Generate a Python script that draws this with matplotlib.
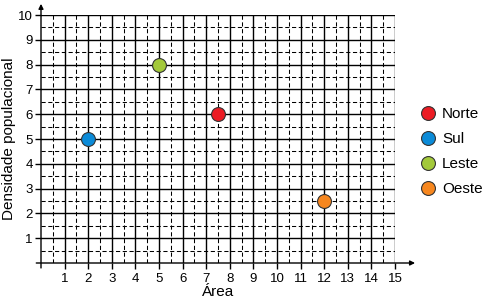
import matplotlib.pyplot as plt
import numpy as np

plt.rcParams['font.family'] = ['Liberation Sans', 'DejaVu Sans']

# data
regioes = ["Norte", "Sul", "Leste", "Oeste"]
area = [7.5, 2, 5, 12]
densidade = [6, 5, 8, 2.5]
cores = ["#ec1c24", "#0b8bd8", "#a3c93a", "#f7871f"]

x_ticks = list(range(1, 16))
y_ticks = list(range(1, 11))

fig = plt.figure(figsize=(4.85, 3.0), dpi=100)
ax = fig.add_axes([41 / 485, 37 / 300, 354 / 485, 248 / 300])
ax.set_xlim(0, 15)
ax.set_ylim(0, 10)

# grid: solid at integers, dashed at halves
for v in np.arange(0.5, 15, 1):
    ax.axvline(v, color="black", lw=0.75, dashes=(4, 2.5), zorder=1)
for v in np.arange(0.5, 10, 1):
    ax.axhline(v, color="black", lw=0.75, dashes=(4, 2.5), zorder=1)
for v in x_ticks:
    ax.axvline(v, color="black", lw=1.0, zorder=1)
for v in y_ticks:
    ax.axhline(v, color="black", lw=1.0, zorder=1)

for s in ax.spines.values():
    s.set_visible(False)

# axes with arrows
ax.annotate("", xy=(15.85, 0), xytext=(-0.2, 0), annotation_clip=False,
            arrowprops=dict(arrowstyle="-|>", color="black", lw=1.0,
                            mutation_scale=7, shrinkA=0, shrinkB=0))
ax.annotate("", xy=(0, 10.45), xytext=(0, -0.2), annotation_clip=False,
            arrowprops=dict(arrowstyle="-|>", color="black", lw=1.0,
                            mutation_scale=7, shrinkA=0, shrinkB=0))

ax.set_xticks(x_ticks)
ax.set_yticks(y_ticks)
ax.tick_params(axis="both", length=4, width=1.0, color="black", labelsize=9.5, pad=2)
ax.tick_params(axis="x", pad=3)

ax.set_xlabel("Área", fontsize=11, labelpad=0)
ax.set_ylabel("Densidade populacional", fontsize=11, labelpad=1)

for nome, x, y, c in zip(regioes, area, densidade, cores):
    ax.plot(x, y, "o", ms=10, mfc=c, mec="#333333", mew=0.8, label=nome,
            zorder=5, clip_on=False)

fig.legend(loc="upper left", bbox_to_anchor=(419 / 485, 1 - 107 / 300),
           frameon=False, fontsize=11, handletextpad=0.3, labelspacing=0.72,
           borderaxespad=0, borderpad=0, handlelength=1.2)

fig.savefig("out.png", dpi=100)
